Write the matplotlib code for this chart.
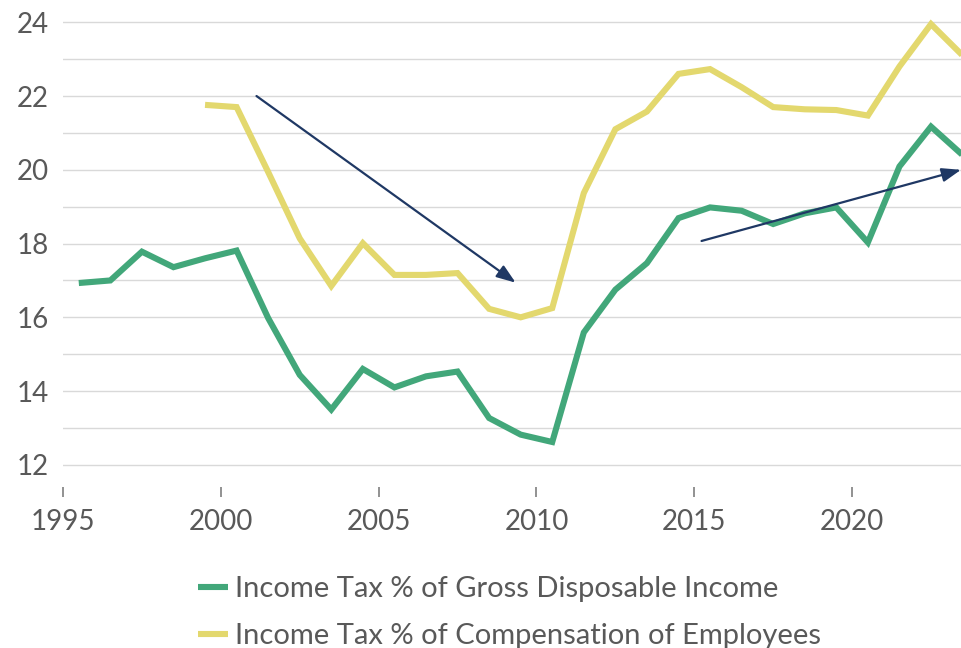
import matplotlib
matplotlib.use("Agg")
import matplotlib.pyplot as plt
from matplotlib.lines import Line2D

plt.rcParams['font.family'] = ['Lato', 'DejaVu Sans']

# Annual observations, plotted at mid-year
years = [1995.5 + i for i in range(29)]  # 1995.5 .. 2023.5

gross_disposable = [16.93, 17.00, 17.78, 17.36, 17.60, 17.81, 15.98, 14.44, 13.50,
                    14.60, 14.10, 14.40, 14.53, 13.27, 12.82, 12.62, 15.59, 16.75,
                    17.47, 18.69, 18.98, 18.89, 18.53, 18.82, 18.98, 18.03, 20.09,
                    21.17, 20.40]

comp_years = years[4:]  # series begins in 1999
comp_employees = [21.76, 21.70, 19.94, 18.14, 16.85, 18.01, 17.15, 17.15, 17.20,
                  16.23, 16.00, 16.25, 19.37, 21.10, 21.58, 22.60, 22.73, 22.24,
                  21.70, 21.64, 21.62, 21.47, 22.80, 23.95, 23.10]

series_labels = ["Income Tax % of Gross Disposable Income",
                 "Income Tax % of Compensation of Employees"]

x_ticks = [1995, 2000, 2005, 2010, 2015, 2020]
y_ticks = [12, 14, 16, 18, 20, 22, 24]

# Trend arrows (start -> end)
trend_down = ((2001.13, 22.0), (2009.34, 16.94))
trend_up = ((2015.23, 18.07), (2023.45, 20.0))

GREEN = "#42A77A"
YELLOW = "#E3D86E"
NAVY = "#1F3864"
TEXT = "#595959"
GRID = "#D9D9D9"

fig = plt.figure(figsize=(9.61, 6.48), dpi=100)
ax = fig.add_axes([63 / 961, (648 - 487) / 648, 898 / 961, 479.5 / 648])

ax.set_xlim(1995, 2023.45)
ax.set_ylim(11.4, 24.4)

# Horizontal gridlines at every unit
for v in range(12, 25):
    ax.axhline(v, color=GRID, lw=1.0, zorder=0)

ax.plot(years, gross_disposable, color=GREEN, lw=4.4, solid_joinstyle='miter',
        solid_capstyle='butt', zorder=3)
ax.plot(comp_years, comp_employees, color=YELLOW, lw=4.4, solid_joinstyle='miter',
        solid_capstyle='butt', zorder=2)

arrow_props = dict(arrowstyle='-|>,head_length=1.15,head_width=0.42',
                   color=NAVY, lw=1.6, shrinkA=0, shrinkB=0)
for (start, end) in (trend_down, trend_up):
    ax.annotate("", xy=end, xytext=start, arrowprops=arrow_props,
                annotation_clip=False, zorder=4)

for s in ax.spines.values():
    s.set_visible(False)

ax.set_xticks(x_ticks)
ax.set_xticklabels([str(t) for t in x_ticks])
ax.set_yticks(y_ticks)
ax.set_yticklabels([str(t) for t in y_ticks])
ax.tick_params(axis='x', length=7.2, width=1.2, color="#7F7F7F", direction='out',
               pad=9, labelsize=20, labelcolor=TEXT)
ax.tick_params(axis='y', length=0, pad=10, labelsize=20, labelcolor=TEXT)

handles = [Line2D([], [], color=GREEN, lw=4.4, solid_capstyle='butt'),
           Line2D([], [], color=YELLOW, lw=4.4, solid_capstyle='butt')]
leg = fig.legend(handles, series_labels, loc='upper left',
                 bbox_to_anchor=(198 / 961, (648 - 576) / 648),
                 frameon=False, fontsize=21, handlelength=1.03, handletextpad=0.24,
                 labelspacing=0.72, borderaxespad=0, borderpad=0)
for t in leg.get_texts():
    t.set_color(TEXT)

fig.savefig("out.png", dpi=100)
